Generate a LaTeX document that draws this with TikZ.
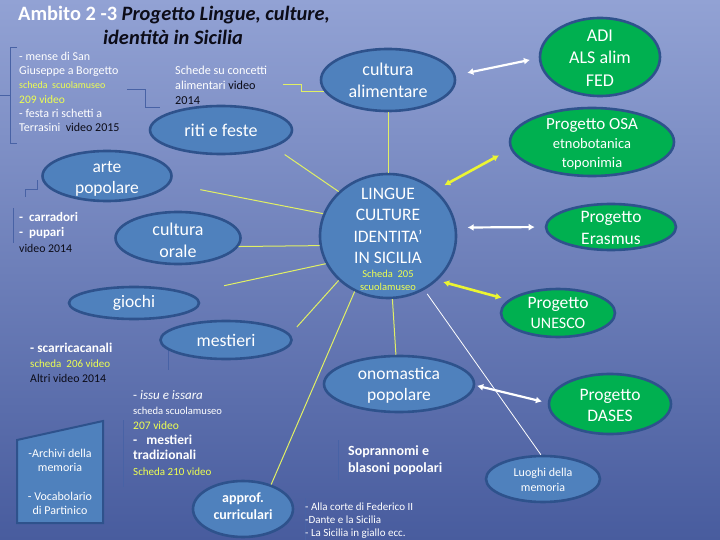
\documentclass[tikz,border=0pt]{standalone}
\usepackage{fontspec}
\setmainfont{Carlito}
\usetikzlibrary{shapes.geometric,arrows.meta}
\definecolor{bgtop}{RGB}{146,162,212}
\definecolor{bgmid}{RGB}{110,128,188}
\definecolor{bgbot}{RGB}{72,92,158}
\definecolor{ellfill}{RGB}{79,129,189}
\definecolor{ellline}{RGB}{46,82,140}
\definecolor{grfill}{RGB}{0,176,80}
\definecolor{ylw}{RGB}{238,255,80}
\definecolor{linky}{RGB}{225,240,100}
\definecolor{arry}{RGB}{235,245,50}
\definecolor{faint}{RGB}{72,98,165}
\definecolor{dark}{RGB}{12,12,24}
\begin{document}
\begin{tikzpicture}[x=1pt,y=-1pt,
 bub/.style={ellipse, draw=ellline, line width=2.6pt, fill=ellfill, inner sep=0pt},
 gbub/.style={bub, fill=grfill},
 lab/.style={text=white, align=center, inner sep=0pt},
 txt/.style={inner sep=0pt, anchor=north west, align=left, text=white},
 ythin/.style={draw=linky, line width=1pt},
 wthin/.style={draw=white, line width=0.8pt},
 ythick/.style={draw=arry, line width=2.6pt, {Latex[length=6pt,width=7pt]}-{Latex[length=6pt,width=7pt]}},
 wthick/.style={draw=white, line width=2.2pt, {Latex[length=6pt,width=7pt]}-{Latex[length=6pt,width=7pt]}},
 faintl/.style={draw=faint, line width=0.9pt}]
\useasboundingbox (0,0) rectangle (720,540);
\shade[top color=bgtop, middle color=bgmid, bottom color=bgbot] (0,0) rectangle (720,540);

% faint brackets
\draw[faintl] (17,47) -- (10,47) -- (10,143) -- (17,143);
\draw[faintl] (0,95) -- (10,95);
\draw[faintl] (127,89) -- (145,89) -- (145,107) -- (160,107);
\draw[faintl] (25,197) -- (25,189) -- (37,189) -- (37,180);
\draw[faintl] (13,208) -- (13,243);
\draw[faintl] (168,338) -- (168,370);
\draw[faintl] (123,420) -- (123,487);
\draw[faintl] (338,440) -- (338,480);
\draw[faintl] (305,498) -- (305,540);

% title
\node[anchor=west, inner sep=0pt, text=dark, font=\fontsize{20.4}{24}\selectfont\bfseries] (title1) at (18,15)
  {{\color{white}Ambito 2 -3 }\textit{Progetto Lingue, culture,}};
\node[inner sep=0pt, text=dark, font=\fontsize{20.4}{24}\selectfont\bfseries] (title2) at (173,37)
  {\textit{identità in Sicilia}};

% blue ellipses
\node[bub, minimum width=134pt, minimum height=62pt,
  label={[lab, font=\fontsize{18}{22}\selectfont]center:cultura\\alimentare}] (alim) at (388,80) {};
\node[bub, minimum width=142pt, minimum height=48pt,
  label={[lab, font=\fontsize{18}{22}\selectfont]center:riti e feste}] (riti) at (221,130) {};
\node[bub, minimum width=129pt, minimum height=50pt,
  label={[lab, yshift=-3pt, font=\fontsize{17.5}{21}\selectfont]center:arte\\popolare}] (arte) at (107,176) {};
\node[bub, minimum width=125pt, minimum height=52pt,
  label={[lab, yshift=-2pt, font=\fontsize{18}{22}\selectfont]center:cultura\\orale}] (orale) at (178,238) {};
\node[bub, minimum width=130pt, minimum height=32pt,
  label={[lab, font=\fontsize{17.5}{20}\selectfont]center:giochi}] (giochi) at (134,303) {};
\node[bub, minimum width=131pt, minimum height=38pt,
  label={[lab, font=\fontsize{17.7}{20}\selectfont]center:mestieri}] (mestieri) at (226,340) {};
\node[bub, minimum width=136pt, minimum height=124pt,
  label={[lab, yshift=-3pt, font=\fontsize{17.5}{21.5}\selectfont]center:LINGUE\\CULTURE\\IDENTITA'\\IN SICILIA\\[-7.5pt]{\color{ylw}\fontsize{10.5}{13}\selectfont Scheda\ \ 205}\\[-9pt]{\color{ylw}\fontsize{10.5}{13}\selectfont scuolamuseo}}] (lingue) at (388,236) {};
\node[bub, minimum width=150pt, minimum height=56pt,
  label={[lab, yshift=-1pt, font=\fontsize{17.5}{21}\selectfont]center:onomastica\\popolare}] (onom) at (399,384) {};
\node[bub, minimum width=100pt, minimum height=56pt,
  label={[lab, yshift=3pt, font=\fontsize{14}{17}\selectfont\bfseries]center:approf.\\curriculari}] (approf) at (243,509) {};
\node[bub, minimum width=114pt, minimum height=46pt,
  label={[lab, yshift=-1pt, font=\fontsize{12}{14.5}\selectfont]center:Luoghi della\\memoria}] (luoghi) at (543,479) {};

% green ellipses
\node[gbub, minimum width=120pt, minimum height=78pt,
  label={[lab, yshift=-1pt, font=\fontsize{18}{22.5}\selectfont]center:ADI\\ALS alim\\FED}] (adi) at (600,57) {};
\node[gbub, minimum width=164pt, minimum height=68pt,
  label={[lab, yshift=-2pt, font=\fontsize{14.5}{19}\selectfont]center:{\fontsize{17}{19}\selectfont Progetto OSA}\\etnobotanica\\toponimia}] (osa) at (592,142) {};
\node[gbub, minimum width=130pt, minimum height=46pt,
  label={[lab, yshift=-1pt, font=\fontsize{17.5}{21.5}\selectfont]center:Progetto\\Erasmus}] (erasmus) at (611,227) {};
\node[gbub, minimum width=114pt, minimum height=48pt,
  label={[lab, font=\fontsize{17.5}{20}\selectfont]center:Progetto\\{\fontsize{16}{20}\selectfont UNESCO}}] (unesco) at (558,313) {};
\node[gbub, minimum width=122pt, minimum height=60pt,
  label={[lab, yshift=-1pt, font=\fontsize{17.5}{21}\selectfont]center:Progetto\\DASES}] (dases) at (610,404) {};

% archivi box
\filldraw[fill=ellfill, draw=ellline, line width=2pt] (17,440) -- (103,421) -- (103,523) -- (17,523) -- cycle;
\node[lab, font=\fontsize{12}{14}\selectfont] (archivi) at (60,482) {-Archivi della\\memoria\\[15pt]- Vocabolario\\di Partinico};

% text blocks
\node[txt, font=\fontsize{12}{14.2}\selectfont] (mense) at (19,52)
  {- mense di San\\Giuseppe a Borgetto\\{\color{ylw}\fontsize{10}{14.2}\selectfont scheda\ \ scuolamuseo}\\{\color{ylw}\fontsize{11.5}{14.2}\selectfont 209 video}\\- festa ri schetti a\\Terrasini\ \ {\color{dark}video 2015}};
\node[txt, font=\fontsize{12.2}{15}\selectfont] (schede) at (175,66)
  {Schede su concetti\\alimentari {\color{dark}video}\\{\color{dark}2014}};
\node[txt, font=\fontsize{13}{15.5}\selectfont\bfseries] (carradori) at (19,212)
  {-\ \ carradori\\-\ \ pupari\\{\mdseries\color{dark}\fontsize{11.8}{15.5}\selectfont video 2014}};
\node[txt, font=\fontsize{11.8}{15}\selectfont] (scarrica) at (30,343)
  {{\bfseries\fontsize{13.4}{15}\selectfont - scarricacanali}\\{\color{ylw}\fontsize{11}{15}\selectfont scheda\ \ 206 video}\\{\color{dark}Altri video 2014}};
\node[txt, font=\fontsize{13}{15.2}\selectfont] (issu) at (133,390)
  {- \textit{issu e issara}\\{\fontsize{10.6}{15.2}\selectfont scheda scuolamuseo}\\{\color{ylw}\fontsize{11.5}{15.2}\selectfont 207 video}\\{\bfseries\fontsize{13.5}{15.2}\selectfont -\ \ \ mestieri}\\{\bfseries\fontsize{13.5}{15.2}\selectfont tradizionali}\\{\color{ylw}\fontsize{11}{15.2}\selectfont Scheda 210 video}};
\node[txt, font=\fontsize{14}{17}\selectfont\bfseries] (soprannomi) at (348,445)
  {Soprannomi e\\blasoni popolari};
\node[txt, font=\fontsize{11}{12.8}\selectfont] (corte) at (305,503)
  {- Alla corte di Federico II\\-Dante e la Sicilia\\- La Sicilia in giallo ecc.};

% thin connectors
\coordinate (sc) at (283,85);
\draw[ythin] (sc) -- ++(18,0) |- (alim.190);
\draw[ythin] (alim.south) -- (lingue.north);
\draw[ythin, shorten <=13pt] (riti.-18) -- (lingue.138);
\draw[ythin, shorten <=31pt] (arte.-7) -- (lingue.161);
\draw[ythin] (orale.-8) -- (lingue.-172);
\draw[ythin, shorten <=36pt] (giochi.10) -- (lingue.204);
\draw[ythin, shorten <=10pt] (mestieri.5) -- (lingue.222.5);
\draw[ythin] (approf.41) -- (lingue.239);
\draw[ythin] (lingue.-86) -- (onom.96);
\draw[wthin, shorten <=5pt] (lingue.-56) -- (luoghi.95);

% thick arrows
\draw[wthick, shorten <=12pt, shorten >=9pt] (alim.4) -- (adi.181);
\draw[wthick, shorten <=11pt, shorten >=10pt] (lingue.7) -- (erasmus.180);
\draw[ythick, shorten <=10pt, shorten >=13pt] (lingue.44) -- (osa.185);
\draw[ythick, shorten <=6pt, shorten >=7pt] (lingue.-42) -- (unesco.165);
\draw[wthick, shorten <=2pt, shorten >=6pt] (onom.-1) -- (dases.179);
\end{tikzpicture}
\end{document}
